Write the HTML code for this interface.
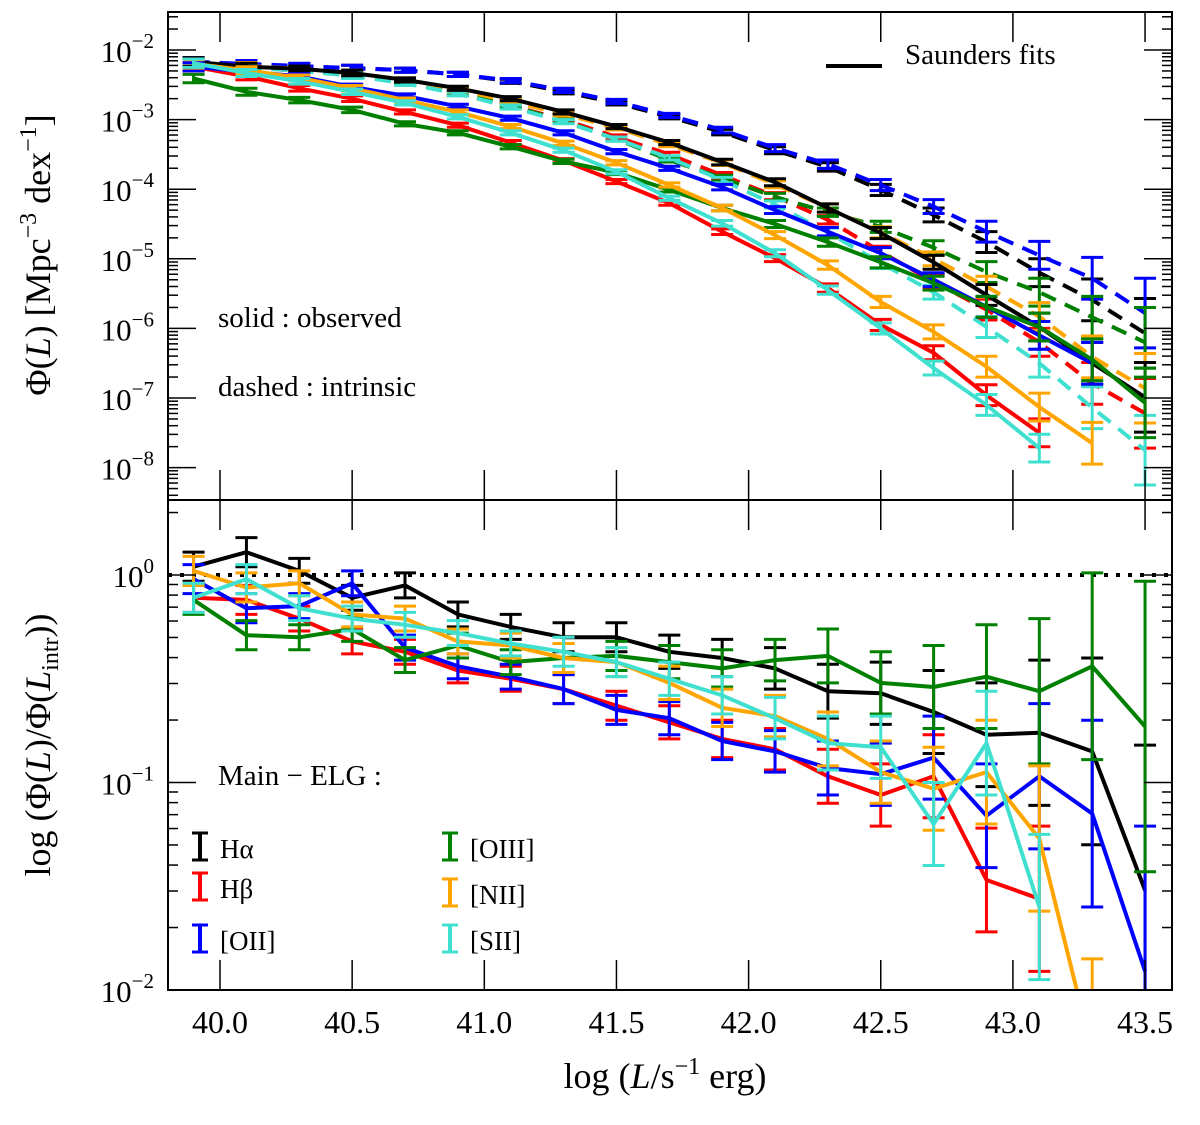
<!DOCTYPE html>
<html><head><meta charset="utf-8"><style>
body{margin:0;background:#fff}
svg text{font-family:"Liberation Serif",serif;fill:#000}
</style></head><body>
<svg id="chart" width="1200" height="1120" viewBox="0 0 1200 1120" xmlns="http://www.w3.org/2000/svg">
<defs>
<clipPath id="ct"><rect x="168" y="12" width="1004" height="488"/></clipPath>
<clipPath id="cb"><rect x="168" y="500" width="1004" height="490"/></clipPath>
</defs>
<g id="topPanel" clip-path="url(#ct)"></g>
<g id="botPanel" clip-path="url(#cb)"></g>
<g id="axes"></g>
<rect x="168" y="12" width="1004" height="488" fill="none" stroke="#000" stroke-width="2"/>
<rect x="168" y="500" width="1004" height="490" fill="none" stroke="#000" stroke-width="2"/>
<g>
<line x1="826" y1="66" x2="882" y2="66" stroke="#000" stroke-width="4"/>
<text x="905" y="64" font-size="29">Saunders fits</text>
</g>
<text x="218" y="327" font-size="29">solid : observed</text>
<text x="218" y="396" font-size="29">dashed : intrinsic</text>
<text x="218" y="785" font-size="29">Main − ELG :</text>
<g id="legend"></g>
<text transform="translate(50,255) rotate(-90)" text-anchor="middle" font-size="36">Φ(<tspan font-style="italic">L</tspan>) [Mpc<tspan font-size="24" dy="-14">−3</tspan><tspan dy="14"> dex</tspan><tspan font-size="24" dy="-14">−1</tspan><tspan dy="14">]</tspan></text>
<text transform="translate(50,745) rotate(-90)" text-anchor="middle" font-size="36">log (Φ(<tspan font-style="italic">L</tspan>)/Φ(<tspan font-style="italic">L</tspan><tspan font-size="24" dy="8">intr</tspan><tspan dy="-8">))</tspan></text>
<text x="665" y="1088" text-anchor="middle" font-size="36">log (<tspan font-style="italic">L</tspan>/s<tspan font-size="24" dy="-14">−1</tspan><tspan dy="14"> erg)</tspan></text>
</svg>
<script>
const xs=[39.9,40.1,40.3,40.5,40.7,40.9,41.1,41.3,41.5,41.7,41.9,42.1,42.3,42.5,42.7,42.9,43.1,43.3,43.5];
const xTicks=[40.0,40.5,41.0,41.5,42.0,42.5,43.0,43.5];
const topDecades=[-2,-3,-4,-5,-6,-7,-8];
const botDecades=[0,-1,-2];
const obsHa=[-2.17,-2.24,-2.27,-2.33,-2.43,-2.55,-2.7,-2.89,-3.1,-3.33,-3.61,-3.9,-4.27,-4.63,-5.05,-5.52,-5.98,-6.5,-6.99];
const obsHb=[-2.24,-2.38,-2.55,-2.7,-2.89,-3.08,-3.33,-3.59,-3.89,-4.2,-4.61,-4.99,-5.42,-5.95,-6.35,-6.96,-7.5,null,null];
const obsOII=[-2.24,-2.31,-2.38,-2.53,-2.66,-2.81,-2.98,-3.19,-3.46,-3.7,-3.97,-4.3,-4.61,-4.92,-5.3,-5.69,-6.1,-6.5,null];
const obsOIII=[-2.41,-2.6,-2.72,-2.86,-3.06,-3.19,-3.39,-3.6,-3.76,-4.01,-4.27,-4.5,-4.76,-5.05,-5.35,-5.69,-5.98,-6.45,-7.07];
const obsNII=[-2.2,-2.29,-2.4,-2.55,-2.72,-2.89,-3.1,-3.34,-3.62,-3.94,-4.27,-4.66,-5.09,-5.62,-6.05,-6.55,-7.13,-7.65,null];
const obsSII=[-2.19,-2.33,-2.45,-2.6,-2.76,-2.96,-3.19,-3.44,-3.75,-4.13,-4.49,-4.92,-5.45,-6.0,-6.57,-7.1,-7.72,null,null];
const intHa=[-2.17,-2.22,-2.24,-2.26,-2.29,-2.35,-2.45,-2.6,-2.76,-2.96,-3.18,-3.44,-3.68,-4.01,-4.37,-4.76,-5.2,-5.59,-6.07];
const intHb=[-2.22,-2.25,-2.3,-2.36,-2.47,-2.62,-2.8,-3.0,-3.25,-3.5,-3.8,-4.1,-4.44,-4.9,-5.33,-5.73,-6.2,-6.79,-7.22];
const intOII=[-2.17,-2.2,-2.23,-2.26,-2.29,-2.35,-2.44,-2.58,-2.74,-2.94,-3.15,-3.41,-3.64,-3.94,-4.25,-4.61,-4.95,-5.28,-5.78];
const intOIII=[-2.2,-2.24,-2.29,-2.36,-2.47,-2.62,-2.8,-3.02,-3.28,-3.58,-3.84,-4.11,-4.33,-4.54,-4.84,-5.19,-5.48,-5.84,-6.2];
const intNII=[-2.2,-2.23,-2.27,-2.33,-2.43,-2.57,-2.74,-2.92,-3.12,-3.36,-3.62,-3.93,-4.27,-4.62,-5.0,-5.4,-5.83,-6.41,-6.86];
const intSII=[-2.21,-2.25,-2.3,-2.37,-2.48,-2.63,-2.82,-3.03,-3.28,-3.55,-3.87,-4.22,-4.62,-5.06,-5.48,-5.98,-6.5,-7.14,-7.75];
const ratioHa=[0.04,0.11,0.02,-0.11,-0.05,-0.19,-0.25,-0.3,-0.3,-0.37,-0.4,-0.45,-0.56,-0.57,-0.66,-0.77,-0.76,-0.85,-1.52];
const ratioHb=[-0.11,-0.12,-0.21,-0.32,-0.37,-0.46,-0.5,-0.55,-0.63,-0.71,-0.79,-0.84,-0.97,-1.06,-0.97,-1.47,-1.56,null,null];
const ratioOII=[-0.02,-0.16,-0.15,-0.04,-0.35,-0.44,-0.49,-0.55,-0.65,-0.69,-0.8,-0.85,-0.93,-0.96,-0.88,-1.16,-0.97,-1.15,-1.91];
const ratioOIII=[-0.12,-0.29,-0.3,-0.26,-0.41,-0.34,-0.42,-0.4,-0.39,-0.42,-0.45,-0.41,-0.39,-0.52,-0.54,-0.49,-0.56,-0.44,-0.73];
const ratioNII=[0.02,-0.06,-0.04,-0.19,-0.21,-0.32,-0.34,-0.4,-0.42,-0.52,-0.64,-0.68,-0.79,-0.95,-1.03,-0.95,-1.27,-2.3,null];
const ratioSII=[-0.11,-0.02,-0.16,-0.21,-0.24,-0.28,-0.33,-0.37,-0.42,-0.5,-0.58,-0.69,-0.81,-0.83,-1.2,-0.81,-1.6,null,null];
const topErr=[0.06,0.05,0.04,0.04,0.03,0.03,0.03,0.03,0.03,0.03,0.04,0.05,0.06,0.08,0.1,0.15,0.2,0.3,0.5];
const botErr=[0.07,0.07,0.06,0.06,0.06,0.06,0.06,0.07,0.07,0.08,0.09,0.1,0.13,0.15,0.2,0.25,0.35,0.45,0.7];
const names=["h-alpha","h-beta","oii","oiii","nii","sii"];
const labels=["Hα","Hβ","[OII]","[OIII]","[NII]","[SII]"];
const colors=["#000000","#ff0000","#0000ff","#008000","#ffa500","#40e0d0"];
const obsSeries=[obsHa,obsHb,obsOII,obsOIII,obsNII,obsSII];
const intSeries=[intHa,intHb,intOII,intOIII,intNII,intSII];
const ratioSeries=[ratioHa,ratioHb,ratioOII,ratioOIII,ratioNII,ratioSII];

const NS="http://www.w3.org/2000/svg";
const X=v=>220+264.3*(v-40);
const YT=l=>50+69.6*(-2-l);
const YB=r=>575-207.5*r;
function mk(tag,attrs,parent){const e=document.createElementNS(NS,tag);for(const k in attrs)e.setAttribute(k,attrs[k]);parent.appendChild(e);return e;}
const topG=document.getElementById('topPanel'),botG=document.getElementById('botPanel'),axesG=document.getElementById('axes'),legendG=document.getElementById('legend');

function drawSeries(parent,vals,errs,Y,color,dash,name){
  const g=mk('g',{},parent);
  
  
  let d='',pen=false;
  vals.forEach((v,i)=>{if(v===null){pen=false;return;}d+=(pen?'L':'M')+X(xs[i]).toFixed(1)+' '+Y(v).toFixed(1);pen=true;});
  const p=mk('path',{d:d,fill:'none',stroke:color,'stroke-width':4,'stroke-linejoin':'round'},g);
  if(dash)p.setAttribute('stroke-dasharray','16 10');
  
  
  vals.forEach((v,i)=>{if(v===null)return;const x=X(xs[i]);const y1=Y(v+errs[i]),y2=Y(v-errs[i]);
    const eb=mk('g',{stroke:color,'stroke-width':3},g);
    
    
    mk('line',{x1:x,y1:y1,x2:x,y2:y2},eb);
    mk('line',{x1:x-11,y1:y1,x2:x+11,y2:y1},eb);
    mk('line',{x1:x-11,y1:y2,x2:x+11,y2:y2},eb);});
}
for(let s=0;s<6;s++){drawSeries(topG,intSeries[s],topErr,YT,colors[s],true,'intrinsic-'+names[s]);}
for(let s=0;s<6;s++){drawSeries(topG,obsSeries[s],topErr,YT,colors[s],false,'observed-'+names[s]);}
const refLine=mk('line',{x1:168,y1:YB(0),x2:1172,y2:YB(0),stroke:'#000','stroke-width':4,'stroke-dasharray':'4 8'},botG);


for(let s=0;s<6;s++){drawSeries(botG,ratioSeries[s],botErr,YB,colors[s],false,'ratio-'+names[s]);}

function tick(x1,y1,x2,y2){const t=mk('line',{x1:x1,y1:y1,x2:x2,y2:y2,stroke:'#000','stroke-width':1.5},axesG);
  
  }
xTicks.forEach(v=>{const x=X(v);tick(x,12,x,42);tick(x,500,x,470);tick(x,500,x,530);tick(x,990,x,960);
  const t=mk('text',{x:x,y:1033,'text-anchor':'middle','font-size':32},axesG);t.textContent=v.toFixed(1);
  
  });
function yAxis(decades,Y,lo,hi,top0,bot0){
  for(let d=lo;d<=hi;d++){for(let k=1;k<10;k++){const y=Y(d+Math.log10(k));if(y<top0||y>bot0)continue;const L=k===1?28:10;tick(168,y,168+L,y);tick(1172,y,1172-L,y);}}
  decades.forEach(d=>{const y=Y(d);const t=mk('text',{x:154,y:y+12,'text-anchor':'end','font-size':31},axesG);
    
    
    t.textContent='10';const sp=mk('tspan',{'font-size':21,dy:-14},t);sp.textContent=d===0?'0':'−'+(-d);});
}
yAxis(topDecades,YT,-9,-1,13,499);
yAxis(botDecades,YB,-3,1,501,989);

const lpos=[[200,860],[200,900],[200,952],[450,860],[450,906],[450,952]];
for(let s=0;s<6;s++){
  const x=lpos[s][0],y=lpos[s][1];
  const g=mk('g',{},legendG);
  
  
  mk('line',{x1:x,y1:y-27,x2:x,y2:y,stroke:colors[s],'stroke-width':4},g);
  mk('line',{x1:x-8,y1:y-27,x2:x+8,y2:y-27,stroke:colors[s],'stroke-width':3},g);
  mk('line',{x1:x-8,y1:y,x2:x+8,y2:y,stroke:colors[s],'stroke-width':3},g);
  const t=mk('text',{x:x+20,y:y-2,'font-size':27},g);t.textContent=labels[s];
}
</script>
</body></html>
